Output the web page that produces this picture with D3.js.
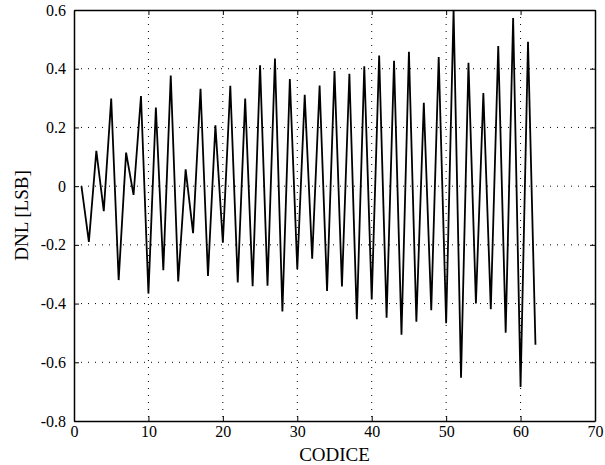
<!DOCTYPE html>
<html>
<head>
<meta charset="utf-8">
<script src="https://cdn.jsdelivr.net/npm/d3@7"></script>
<style>
  body { margin: 0; background: #fff; }
  svg text { font-family: "Liberation Serif", "Times New Roman", serif; fill: #000; }
</style>
</head>
<body>
<div id="chart"></div>
<script>
// DNL per code
var codes = d3.range(1, 63);
var dnl = [
  0.000, -0.190, 0.120, -0.085, 0.298, -0.320, 0.114, -0.030, 0.307, -0.366,
  0.268, -0.286, 0.377, -0.325, 0.057, -0.160, 0.332, -0.306, 0.207, -0.193,
  0.342, -0.328, 0.298, -0.341, 0.412, -0.339, 0.435, -0.427, 0.365, -0.282,
  0.311, -0.247, 0.343, -0.357, 0.392, -0.342, 0.383, -0.453, 0.408, -0.386,
  0.445, -0.448, 0.427, -0.506, 0.458, -0.462, 0.284, -0.423, 0.440, -0.467,
  0.600, -0.653, 0.420, -0.400, 0.317, -0.419, 0.477, -0.499, 0.573, -0.684,
  0.492, -0.540
];
var xTicks = [0, 10, 20, 30, 40, 50, 60, 70];
var yTicks = [-0.8, -0.6, -0.4, -0.2, 0, 0.2, 0.4, 0.6];
var yTickLabels = ["-0.8", "-0.6", "-0.4", "-0.2", "0", "0.2", "0.4", "0.6"];

var W = 605, H = 465;
var margin = {top: 10, right: 10, bottom: 44, left: 74};
var w = W - margin.left - margin.right;
var h = H - margin.top - margin.bottom;

var svg = d3.select("#chart").append("svg")
    .attr("width", W)
    .attr("height", H);

var g = svg.append("g")
    .attr("transform", "translate(" + margin.left + "," + margin.top + ")");

var x = d3.scaleLinear().domain([0, 70]).range([0, w]);
var y = d3.scaleLinear().domain([-0.8, 0.6]).range([h, 0]);

// dotted grid
g.selectAll("line.vgrid")
    .data(xTicks.slice(1, -1))
    .enter().append("line")
    .attr("class", "vgrid")
    .attr("x1", function(d) { return x(d); })
    .attr("x2", function(d) { return x(d); })
    .attr("y1", 0)
    .attr("y2", h)
    .attr("stroke", "#000")
    .attr("stroke-width", 1)
    .attr("stroke-dasharray", "1,6");

g.selectAll("line.hgrid")
    .data(yTicks.slice(1, -1))
    .enter().append("line")
    .attr("class", "hgrid")
    .attr("x1", 0)
    .attr("x2", w)
    .attr("y1", function(d) { return y(d); })
    .attr("y2", function(d) { return y(d); })
    .attr("stroke", "#000")
    .attr("stroke-width", 1)
    .attr("stroke-dasharray", "1,6");

// the DNL trace
var line = d3.line()
    .x(function(d, i) { return x(codes[i]); })
    .y(function(d) { return y(d); });

g.append("path")
    .datum(dnl)
    .attr("d", line)
    .attr("fill", "none")
    .attr("stroke", "#000")
    .attr("stroke-width", 1.8)
    .attr("stroke-linejoin", "miter");

// axes, ticks pointing inward on all four sides
var xAxis = d3.axisBottom(x).tickValues(xTicks).tickSizeInner(-5).tickSizeOuter(0).tickPadding(5);
var yAxis = d3.axisLeft(y).tickValues(yTicks).tickSizeInner(-5).tickSizeOuter(0).tickPadding(8)
    .tickFormat(function(d, i) { return yTickLabels[i]; });

var gx = g.append("g")
    .attr("transform", "translate(0," + h + ")")
    .call(xAxis);
var gy = g.append("g").call(yAxis);

g.append("g")
    .call(d3.axisTop(x).tickValues(xTicks).tickSizeInner(-5).tickSizeOuter(0).tickFormat(""));
g.append("g")
    .attr("transform", "translate(" + w + ",0)")
    .call(d3.axisRight(y).tickValues(yTicks).tickSizeInner(-5).tickSizeOuter(0).tickFormat(""));

gx.attr("font-family", "Liberation Serif").attr("font-size", 16);
gy.attr("font-family", "Liberation Serif").attr("font-size", 16);

svg.selectAll(".domain").attr("stroke", "#000").attr("stroke-width", 1.5);
svg.selectAll(".tick line").attr("stroke", "#000").attr("stroke-width", 1);
svg.selectAll(".tick text")
    .attr("font-family", "Liberation Serif")
    .style("font-size", "16px")
    .attr("fill", "#000");

// axis labels
svg.append("text")
    .attr("x", margin.left + w / 2)
    .attr("y", 461)
    .attr("text-anchor", "middle")
    .style("font-size", "19px")
    .text("CODICE");

svg.append("text")
    .attr("transform", "translate(28," + (margin.top + h / 2) + ") rotate(-90)")
    .attr("text-anchor", "middle")
    .style("font-size", "19px")
    .text("DNL [LSB]");
</script>
</body>
</html>
